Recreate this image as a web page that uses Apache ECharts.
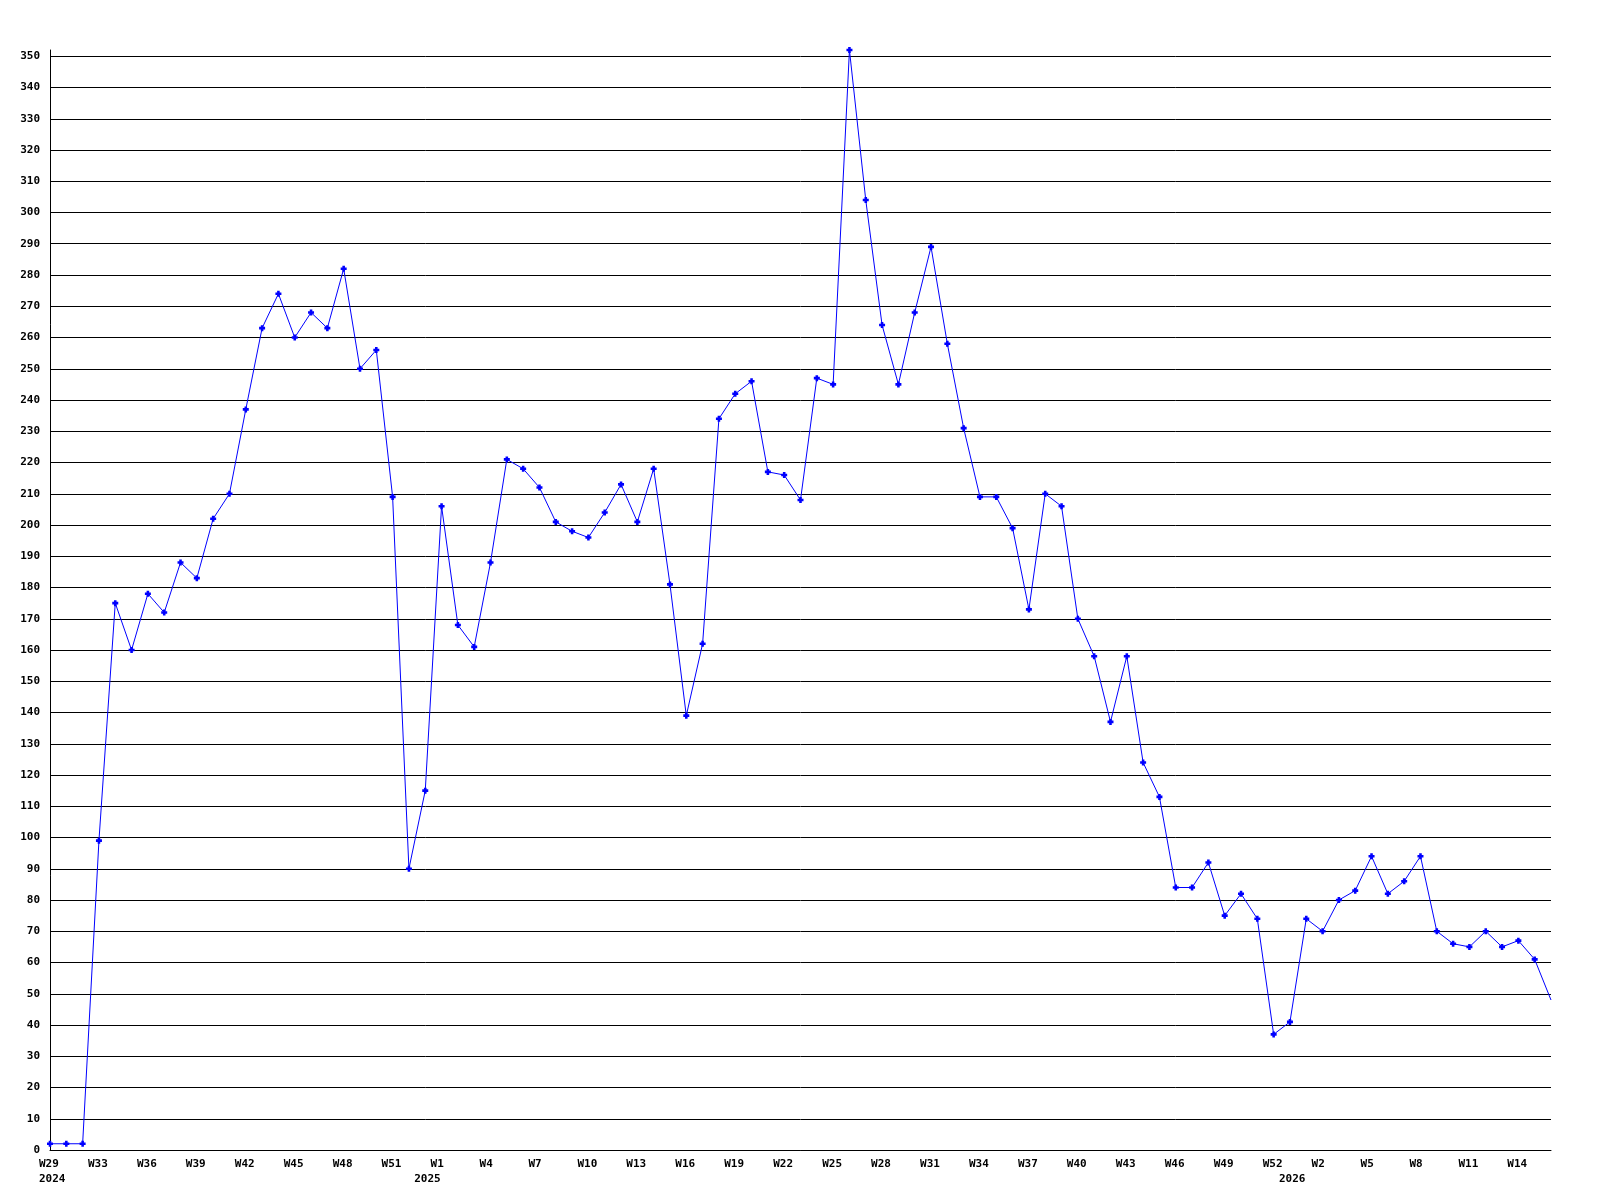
<!DOCTYPE html>
<html>
<head>
<meta charset="utf-8">
<script src="https://cdn.jsdelivr.net/npm/echarts@6/dist/echarts.min.js"></script>
<style>
html,body{margin:0;padding:0;background:#fff;}
#chart{width:1600px;height:1200px;}
</style>
</head>
<body>
<div id="chart"></div>
<script>
// Categories: year-week
var weeks2024 = ['W29','W30','W31','W33','W34','W35','W36','W37','W38','W39','W40','W41','W42','W43','W44','W45','W46','W47','W48','W49','W50','W51','W52'];
var weeks2025 = ['W0','W1','W2','W3','W4','W5','W6','W7','W8','W9','W10','W11','W12','W13','W14','W15','W16','W17','W18','W19','W20','W21','W22','W23','W24','W25','W26','W27','W28','W29','W30','W31','W32','W33','W34','W35','W36','W37','W38','W39','W40','W41','W42','W43','W44','W45','W46','W47','W48','W49','W50','W51','W52'];
var weeks2026 = ['W0','W1','W2','W3','W4','W5','W6','W7','W8','W9','W10','W11','W12','W13','W14','W15','W16'];

// Series values
var values = [
  2,2,2,99,175,160,178,172,188,183,
  202,210,237,263,274,260,268,263,282,250,
  256,209,90,115,206,168,161,188,221,218,
  212,201,198,196,204,213,201,218,181,139,
  162,234,242,246,217,216,208,247,245,352,
  304,264,245,268,289,258,231,209,209,199,
  173,210,206,170,158,137,158,124,113,84,
  84,92,75,82,74,37,41,74,70,80,
  83,94,82,86,94,70,66,65,70,65,
  67,61,48
];

var yTickMax = 350;
var yTickStep = 10;

var cats = [], catWeek = [], catYear = [];
[['2024', weeks2024], ['2025', weeks2025], ['2026', weeks2026]].forEach(function (p) {
  p[1].forEach(function (w, i) {
    cats.push(p[0] + '-' + w);
    catWeek.push(w);
    catYear.push(i === 0 ? p[0] : '');
  });
});

function showLabel(idx) {
  return idx % 3 === 0 || catYear[idx] !== '';
}

var seriesData = values.map(function (v, i) {
  if (i === values.length - 1) return { value: v, symbol: 'none' };
  return v;
});

var font = { fontFamily: 'DejaVu Sans Mono', fontWeight: 'bold', fontSize: 11, color: '#000' };
var black = '#000';
var yMaxLine = 352;

var chart = echarts.init(document.getElementById('chart'), null, { renderer: 'canvas' });
chart.setOption({
  backgroundColor: '#ffffff',
  animation: false,
  grid: [
    { left: 50, right: 49, top: 50, bottom: 50, containLabel: false },
    { left: 50, right: 49, top: 1150 - yTickMax * 1100 / yMaxLine, bottom: 50, containLabel: false }
  ],
  xAxis: [
    {
      gridIndex: 0,
      type: 'category',
      data: cats,
      boundaryGap: false,
      axisLine: { show: true, lineStyle: { color: black, width: 1 } },
      axisTick: { show: false },
      splitLine: { show: false },
      axisLabel: Object.assign({
        interval: function (idx) { return showLabel(idx); },
        margin: 7,
        lineHeight: 15,
        verticalAlign: 'top',
        align: 'center',
        formatter: function (val, idx) {
          var l1 = idx % 3 === 0 ? catWeek[idx] : ' ';
          var l2 = catYear[idx];
          return l2 ? '{a|' + l1 + '}\n{a|' + l2 + '}' : '{a|' + l1 + '}';
        },
        rich: {
          a: Object.assign({ width: 22, align: 'left', lineHeight: 15, overflow: 'none' }, font)
        }
      }, font)
    },
    {
      gridIndex: 1,
      type: 'category',
      data: cats,
      boundaryGap: false,
      show: false
    }
  ],
  yAxis: [
    {
      gridIndex: 0,
      type: 'value',
      min: 0,
      max: yMaxLine,
      axisLine: { show: true, lineStyle: { color: black, width: 1 } },
      axisTick: { show: false },
      axisLabel: { show: false },
      splitLine: { show: false }
    },
    {
      gridIndex: 1,
      type: 'value',
      min: 0,
      max: yTickMax,
      interval: yTickStep,
      axisLine: { show: false },
      axisTick: { show: false },
      axisLabel: Object.assign({ margin: 10 }, font),
      splitLine: { show: true, lineStyle: { color: black, width: 1 } }
    }
  ],
  series: [{
    type: 'line',
    xAxisIndex: 0,
    yAxisIndex: 0,
    data: seriesData,
    symbol: 'path://M2,0H5V2H7V5H5V7H2V5H0V2H2Z',
    symbolSize: 6,
    showAllSymbol: true,
    lineStyle: { color: '#0000ff', width: 1 },
    itemStyle: { color: '#0000ff' },
    z: 5
  }]
});
</script>
</body>
</html>
